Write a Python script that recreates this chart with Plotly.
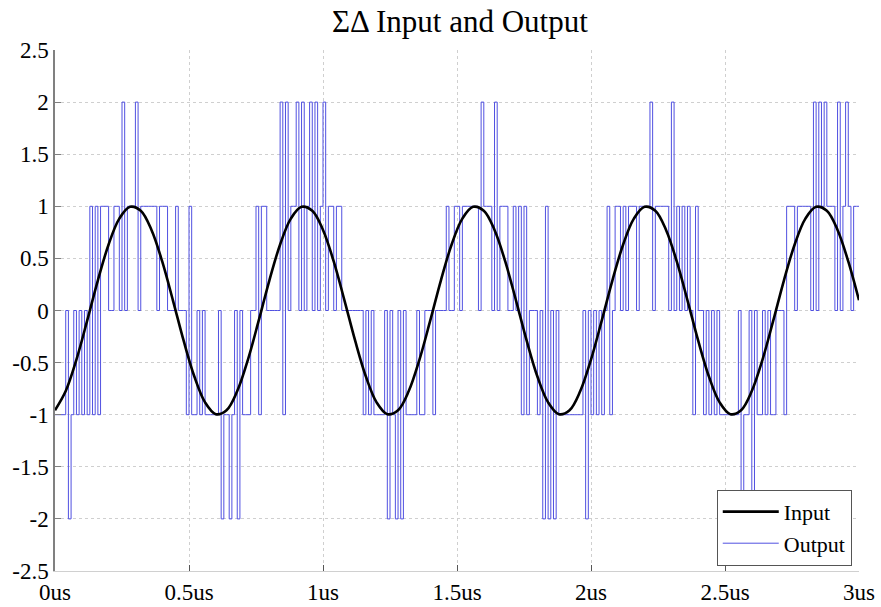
import numpy as np
import plotly.graph_objects as go

# ---- data ----
# sample period of the modulator output (us)
out_dt = 0.01
output_levels = [
    -1, -1, -1, -1, 0, -2, -1, 0, -1, 0,
    -1, 0, -1, 1, -1, 1, -1, 1, 1, 1,
    0, 0, 1, 1, 0, 2, 0, 1, 1, 1,
    2, 0, 1, 1, 1, 1, 1, 1, 0, 1,
    1, 1, 0, 0, 0, 1, 0, 0, 0, -1,
    1, -1, -1, 0, -1, 0, -1, -1, -1, -1,
    -1, 0, -2, -1, -1, -2, -1, 0, -2, 0,
    -1, -1, -1, 0, 0, 1, -1, 1, 1, 0,
    0, 0, 0, 0, 2, -1, 2, 0, 1, 1,
    2, 0, 2, 0, 1, 2, 0, 2, 0, 1,
    2, 0, 1, 1, 0, 1, 1, 0, 0, 0,
    0, 0, 0, 0, 0, -1, 0, -1, 0, -1,
    -1, -1, -1, 0, -2, 0, -1, -2, 0, -2,
    0, -1, -1, -1, -1, 0, -1, -1, 0, 0,
    0, -1, 0, 0, 0, 0, 1, 0, 0, 1,
    1, 0, 1, 1, 1, 1, 1, 1, 0, 2,
    1, 1, 1, 0, 2, 0, 1, 1, 1, 0,
    0, 1, 0, 1, -1, 1, -1, 0, 0, 0,
    -1, 0, -2, 1, -2, 0, -2, 0, -1, -1,
    -1, -1, -1, -1, -1, -1, -1, 0, -2, 0,
    -1, 0, -1, 0, -1, 0, 1, -1, 0, 1,
    1, 0, 1, 0, 1, 1, 1, 0, 1, 1,
    1, 1, 2, 0, 1, 1, 1, 1, 1, 0,
    2, 0, 1, 0, 1, 0, 1, 0, -1, 1,
    0, 0, -1, 0, -1, 0, -1, 0, -1, -1,
    -1, -1, -1, -1, -1, 0, -2, -1, -1, 0,
    -2, 0, -1, -1, 0, -1, 0, -1, -1, 0,
    0, 0, -1, 1, 1, 1, 0, 1, 1, 1,
    1, 1, 0, 2, 0, 2, 1, 2, 1, 1,
    1, 0, 2, 0, 1, 2, 1, 0, 1, 1,
]

# input sine, read every 0.04 us
in_dt = 0.04
input_values = [
    -0.957, -0.773, -0.471, -0.098, 0.290, 0.634, 0.882, 0.995,
    0.957, 0.773, 0.471, 0.098, -0.290, -0.634, -0.882, -0.995,
    -0.957, -0.773, -0.471, -0.098, 0.290, 0.634, 0.882, 0.995,
    0.957, 0.773, 0.471, 0.098, -0.290, -0.634, -0.882, -0.995,
    -0.957, -0.773, -0.471, -0.098, 0.290, 0.634, 0.882, 0.995,
    0.957, 0.773, 0.471, 0.098, -0.290, -0.634, -0.882, -0.995,
    -0.957, -0.773, -0.471, -0.098, 0.290, 0.634, 0.882, 0.995,
    0.957, 0.773, 0.471, 0.098, -0.290, -0.634, -0.882, -0.995,
    -0.957, -0.773, -0.471, -0.098, 0.290, 0.634, 0.882, 0.995,
    0.957, 0.773, 0.471, 0.098,
]

x_tick_vals = [0, 0.5, 1, 1.5, 2, 2.5, 3]
x_tick_text = ["0us", "0.5us", "1us", "1.5us", "2us", "2.5us", "3us"]
y_tick_vals = [2.5, 2, 1.5, 1, 0.5, 0, -0.5, -1, -1.5, -2, -2.5]
y_tick_text = ["2.5", "2", "1.5", "1", "0.5", "0", "-0.5", "-1", "-1.5", "-2", "-2.5"]

# ---- build ----
t_out = np.arange(len(output_levels)) * out_dt
t_out = np.append(t_out, len(output_levels) * out_dt)
y_out = list(output_levels) + [output_levels[-1]]
t_in = np.arange(len(input_values)) * in_dt

FONT = "Liberation Serif, Times New Roman, serif"

fig = go.Figure()
fig.add_trace(go.Scatter(
    x=t_out, y=y_out, mode="lines", name="Output",
    line=dict(color="rgb(80,80,225)", width=1, shape="hv"),
))
fig.add_trace(go.Scatter(
    x=t_in, y=input_values, mode="lines", name="Input",
    line=dict(color="black", width=2.6, shape="spline", smoothing=1.0),
))

fig.update_layout(
    width=881, height=607,
    margin=dict(l=55, r=22, t=50, b=36),
    paper_bgcolor="white", plot_bgcolor="white",
    font=dict(family=FONT, size=23, color="black"),
    title=dict(text="ΣΔ Input and Output", x=0.522, xanchor="center",
               y=0.9654, yanchor="middle", yref="container",
               font=dict(family=FONT, size=31, color="black")),
    showlegend=True,
    legend=dict(x=0.991, y=0.01, xanchor="right", yanchor="bottom",
                bgcolor="white", bordercolor="#555555", borderwidth=1,
                font=dict(family=FONT, size=22, color="black"),
                traceorder="reversed", itemwidth=56,
                tracegroupgap=0),
)
fig.update_xaxes(
    range=[0, 3], tickvals=x_tick_vals, ticktext=x_tick_text,
    showgrid=True, gridcolor="#cfcfcf", griddash="dot", gridwidth=1,
    showline=True, linecolor="#d0d0d0", linewidth=1,
    ticks="inside", ticklen=6, tickcolor="#555555",
    zeroline=False, mirror=False, automargin=False,
)
fig.update_yaxes(
    range=[-2.5, 2.5], tickvals=y_tick_vals, ticktext=y_tick_text,
    showgrid=True, gridcolor="#cfcfcf", griddash="dot", gridwidth=1,
    showline=True, linecolor="#808080", linewidth=1.5,
    ticks="inside", ticklen=6, tickcolor="#808080",
    zeroline=False, mirror=False, automargin=False,
)

fig.write_html(
    "out.html",
    config={"displayModeBar": False},
    post_script="document.body.style.margin='0';document.body.style.overflow='hidden';",
)
